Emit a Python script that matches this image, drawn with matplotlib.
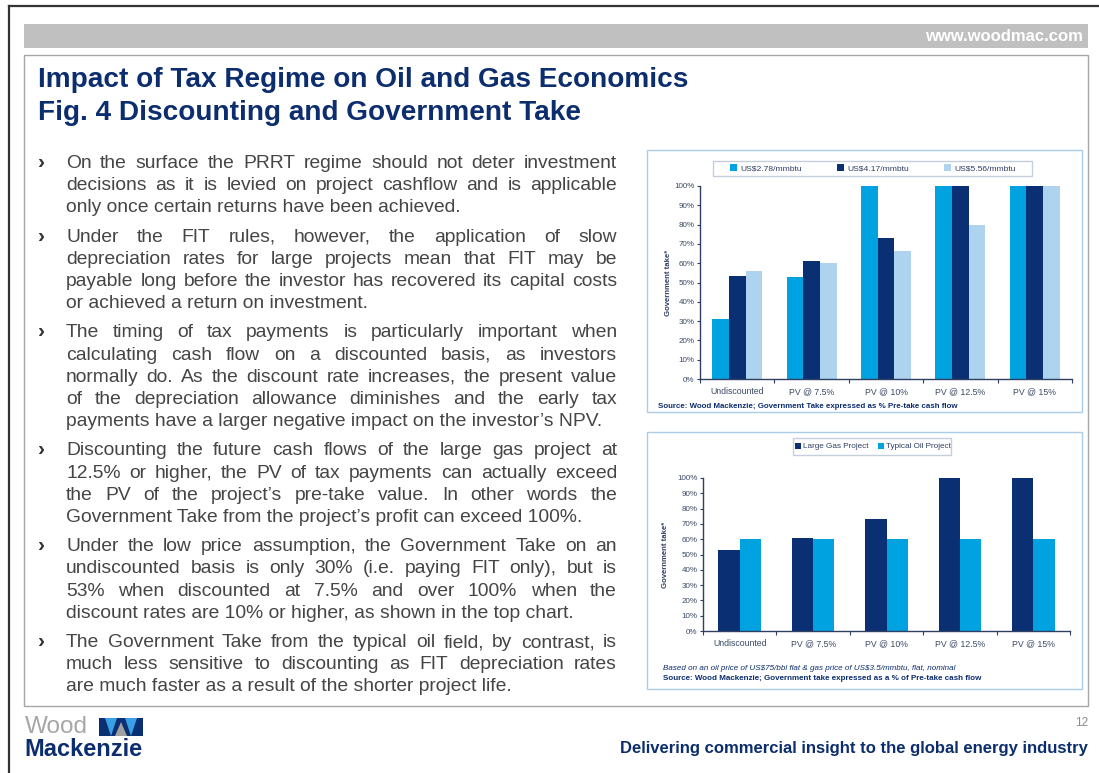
import numpy as np
import matplotlib
matplotlib.use("Agg")
import matplotlib.pyplot as plt
from matplotlib.patches import Rectangle, Polygon
from matplotlib.lines import Line2D

W, H = 1099, 773
plt.rcParams['font.family'] = ['Liberation Sans', 'DejaVu Sans']

# ---------------- data ----------------
categories = ['Undiscounted', 'PV @ 7.5%', 'PV @ 10%', 'PV @ 12.5%', 'PV @ 15%']
top_series_names = ['US$2.78/mmbtu', 'US$4.17/mmbtu', 'US$5.56/mmbtu']
take_278 = [31, 53, 100, 100, 100]
take_417 = [53.5, 61, 73, 100, 100]
take_556 = [56, 60, 66.5, 80, 100]

bottom_series_names = ['Large Gas Project', 'Typical Oil Project']
gas_take = [53, 61, 73.5, 100, 100]
oil_take = [60, 60, 60, 60, 60]

yticks = list(range(0, 101, 10))
ytick_labels = [f'{v}%' for v in yticks]

title_lines = ['Impact of Tax Regime on Oil and Gas Economics',
               'Fig. 4 Discounting and Government Take']

paragraphs = [
    ["On the surface the PRRT regime should not deter investment",
     "decisions as it is levied on project cashflow and is applicable",
     "only once certain returns have been achieved."],
    ["Under the FIT rules, however, the application of slow",
     "depreciation rates for large projects mean that FIT may be",
     "payable long before the investor has recovered its capital costs",
     "or achieved a return on investment."],
    ["The timing of tax payments is particularly important when",
     "calculating cash flow on a discounted basis, as investors",
     "normally do. As the discount rate increases, the present value",
     "of the depreciation allowance diminishes and the early tax",
     "payments have a larger negative impact on the investor\u2019s NPV."],
    ["Discounting the future cash flows of the large gas project at",
     "12.5% or higher, the PV of tax payments can actually exceed",
     "the PV of the project\u2019s pre-take value. In other words the",
     "Government Take from the project\u2019s profit can exceed 100%."],
    ["Under the low price assumption, the Government Take on an",
     "undiscounted basis is only 30% (i.e. paying FIT only), but is",
     "53% when discounted at 7.5% and over 100% when the",
     "discount rates are 10% or higher, as shown in the top chart."],
    ["The Government Take from the typical oil field, by contrast, is",
     "much less sensitive to discounting as FIT depreciation rates",
     "are much faster as a result of the shorter project life."],
]

# ---------------- style ----------------
NAVY = '#0b2f73'
CYAN = '#00a2e0'
PALE = '#aed3ef'
TITLE_C = '#0c2d6e'
BODY_C = '#454545'
AXIS_C = '#2e3f63'
TICK_C = '#3c4a66'
BOX_C = '#a9cde8'

fig = plt.figure(figsize=(W / 100, H / 100), dpi=100)
bg = fig.add_axes([0, 0, 1, 1])
bg.set_xlim(0, W)
bg.set_ylim(H, 0)
bg.axis('off')

# slide frame (left + top)
bg.add_line(Line2D([8.5, 8.5], [6, H], color='#333333', lw=1.6))
bg.add_line(Line2D([8.5, W], [6, 6], color='#333333', lw=1.6))
# banner
bg.add_patch(Rectangle((24, 24), 1064, 24, facecolor='#c0c0c0', edgecolor='none'))
bg.text(1083, 36.5, 'www.woodmac.com', color='white', fontsize=12, fontweight='bold',
        ha='right', va='center')
# content box
bg.add_patch(Rectangle((24, 55), 1064, 651, facecolor='white', edgecolor='#a6a6a6', lw=1))

# title
bg.text(38, 80, title_lines[0], color=TITLE_C, fontsize=20.2, fontweight='bold', va='center')
bg.text(38, 113, title_lines[1], color=TITLE_C, fontsize=20.2, fontweight='bold', va='center')

# body text, justified (all words share one baseline per line)
renderer = fig.canvas.get_renderer()
x0, x1 = 66, 617
fs = 13.9
y = 163
LINE = 22.2
PARA = 29.2
BASE = 5.0
for para in paragraphs:
    bg.text(38, y + BASE, '\u203a', color='#333333', fontsize=15, fontweight='bold', va='baseline')
    for i, line in enumerate(para):
        last = (i == len(para) - 1)
        if last:
            bg.text(x0, y + BASE, line, color=BODY_C, fontsize=fs, va='baseline')
        else:
            words = line.split(' ')
            texts = [bg.text(0, y + BASE, wd, color=BODY_C, fontsize=fs, va='baseline')
                     for wd in words]
            widths = [t.get_window_extent(renderer).width for t in texts]
            gap = max((x1 - x0 - sum(widths)) / (len(words) - 1), 2.0)
            xx = x0
            for t, wdt in zip(texts, widths):
                t.set_x(xx)
                xx += wdt + gap
        y += LINE if not last else PARA

# chart boxes
bg.add_patch(Rectangle((647, 150), 435, 262, facecolor='white', edgecolor=BOX_C, lw=1))
bg.add_patch(Rectangle((647, 432), 435, 257, facecolor='white', edgecolor=BOX_C, lw=1))
# legend frames
bg.add_patch(Rectangle((713, 161), 319, 15, facecolor='white', edgecolor='#c5cfdc', lw=1))
bg.add_patch(Rectangle((793, 438), 158, 17, facecolor='white', edgecolor='#c5cfdc', lw=1))


def fig_rect(l, t, r, b):
    return [l / W, 1 - b / H, (r - l) / W, (b - t) / H]


def style_axes(ax):
    ax.set_xlim(-0.5, len(categories) - 0.5)
    ax.set_ylim(0, 100)
    for s in ['top', 'right']:
        ax.spines[s].set_visible(False)
    for s in ['left', 'bottom']:
        ax.spines[s].set_color(AXIS_C)
        ax.spines[s].set_linewidth(1.0)
    ax.set_yticks(yticks)
    ax.set_yticklabels(ytick_labels)
    ax.tick_params(axis='y', length=2, width=0.8, color=AXIS_C, pad=2,
                   labelsize=5.8, labelcolor=TICK_C)
    ax.set_xticks(np.arange(-0.5, len(categories), 1.0))
    ax.set_xticklabels([])
    ax.tick_params(axis='x', which='major', length=3, width=0.8, color=AXIS_C, direction='out')
    ax.set_xticks(np.arange(len(categories)), minor=True)
    ax.set_xticklabels(categories, minor=True)
    ax.tick_params(axis='x', which='minor', length=0, pad=6, labelsize=6.3, labelcolor=TICK_C)
    ax.set_ylabel('Government take*', fontsize=5.6, fontweight='bold', color=AXIS_C, labelpad=4)


x = np.arange(len(categories))

# top chart
ax1 = fig.add_axes(fig_rect(700, 186, 1072, 379))
w1 = 0.224
b1 = ax1.bar(x - w1, take_278, w1, color=CYAN, label=top_series_names[0])
b2 = ax1.bar(x, take_417, w1, color=NAVY, label=top_series_names[1])
b3 = ax1.bar(x + w1, take_556, w1, color=PALE, label=top_series_names[2])
style_axes(ax1)
ax1.yaxis.set_label_coords(-0.074, 0.5)
fig.legend(handles=[b1, b2, b3], labels=top_series_names, loc='center',
           bbox_to_anchor=(873 / W, 1 - 168.5 / H), ncol=3,
           fontsize=6.1, frameon=False, columnspacing=4.2,
           handlelength=0.75, handleheight=0.75, handletextpad=0.4, borderpad=0.2,
           labelcolor=AXIS_C)
bg.text(658, 406.5, 'Source: Wood Mackenzie; Government Take expressed as % Pre-take cash flow',
        color=TITLE_C, fontsize=5.7, fontweight='bold', va='center')

# bottom chart
ax2 = fig.add_axes(fig_rect(703, 478, 1070, 631))
w2 = 0.29
g1 = ax2.bar(x - w2 / 2, gas_take, w2, color=NAVY, label=bottom_series_names[0])
g2 = ax2.bar(x + w2 / 2, oil_take, w2, color=CYAN, label=bottom_series_names[1])
style_axes(ax2)
ax2.yaxis.set_label_coords(-0.094, 0.5)
fig.legend(handles=[g1, g2], labels=bottom_series_names, loc='center',
           bbox_to_anchor=(873 / W, 1 - 446.5 / H), ncol=2,
           fontsize=5.9, frameon=False, columnspacing=1.1,
           handlelength=0.75, handleheight=0.75, handletextpad=0.3, borderpad=0.2,
           labelcolor=AXIS_C)
bg.text(663, 668, 'Based on an oil price of US\\$75/bbl flat & gas price of US\\$3.5/mmbtu, flat, nominal',
        color=TITLE_C, fontsize=5.8, fontstyle='italic', va='center')
bg.text(663, 678.5, 'Source: Wood Mackenzie; Government take expressed as a % of Pre-take cash flow',
        color=TITLE_C, fontsize=5.75, fontweight='bold', va='center')

# footer
bg.text(25, 727, 'Wood', color='#a6a6a6', fontsize=17.5, va='center')
bg.text(24, 750, 'Mackenzie', color=TITLE_C, fontsize=17, fontweight='bold', va='center')
bg.add_patch(Rectangle((99, 718), 44, 18, facecolor=NAVY, edgecolor='none'))
bg.add_patch(Polygon([(105, 718), (117, 718), (111, 736)], closed=True, facecolor='#3aa0e6', edgecolor='none'))
bg.add_patch(Polygon([(115, 736), (127, 736), (121, 722)], closed=True, facecolor='#a0a0a0', edgecolor='none'))
bg.add_patch(Polygon([(125, 718), (137, 718), (131, 736)], closed=True, facecolor='#3aa0e6', edgecolor='none'))
bg.text(1088, 723, '12', color='#8c8c8c', fontsize=8.5, ha='right', va='center')
bg.text(1088, 749, 'Delivering commercial insight to the global energy industry',
        color=TITLE_C, fontsize=12, fontweight='bold', ha='right', va='center')

fig.savefig('out.png', dpi=100)
